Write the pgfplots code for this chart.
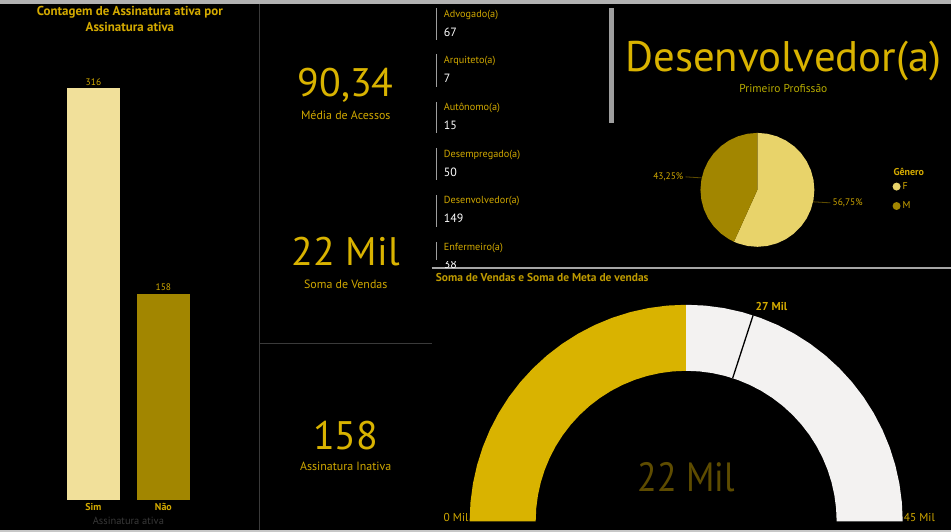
\documentclass[border=0pt]{standalone}
\usepackage{pgfplots}
\pgfplotsset{compat=1.18}
\usepackage{fontspec}
\setmainfont{PT Sans}
\definecolor{gold}{HTML}{D9B300}
\definecolor{goldlab}{HTML}{D0A800}
\definecolor{goldtitle}{HTML}{D4AA00}
\definecolor{goldtitleB}{HTML}{BE9A00}
\definecolor{olive}{HTML}{B8AC00}
\definecolor{barSim}{HTML}{F1E09A}
\definecolor{barNao}{HTML}{A28600}
\definecolor{pieF}{HTML}{E8D36A}
\definecolor{pieM}{HTML}{A28600}
\definecolor{gaugeW}{HTML}{F3F2F1}
\definecolor{darkgold}{HTML}{5E4C00}
\definecolor{divider}{HTML}{3A3A3A}
\newcommand\fs[1]{\fontsize{#1}{#1}\selectfont}
\begin{document}
\begin{tikzpicture}
% background
\fill[black] (0,0) rectangle (952bp,532bp);
\fill[black!30] (0,528bp) rectangle (952bp,532bp);
\fill[black!22] (0,0) rectangle (952bp,1.5bp);
% dividers
\draw[divider, line width=1bp] (259.5bp,1.5bp) -- (259.5bp,528bp);
\draw[divider, line width=1bp] (259.5bp,188bp) -- (432bp,188bp);
\draw[black!35, line width=1.5bp] (432bp,264bp) -- (952bp,264bp);
% slicer bars
\foreach \a/\b in {8/40,54/87,102/133,148/180,195/227,242/260}{
  \draw[black!38, line width=1.5bp] (437bp,532bp-\a bp) -- (437bp,532bp-\b bp);
}
\fill[black!38] (609bp,409bp) rectangle (614bp,524bp);
% slicer texts
\foreach \y/\t in {15/Advogado(a),61/Arquiteto(a),108/Autônomo(a),155/Desempregado(a),201/Desenvolvedor(a),248/Enfermeiro(a)}{
  \node[anchor=west, text=goldlab, inner sep=0pt, font=\fs{10.3}] at (444bp,532bp-\y bp) {\t};
}
\foreach \y/\t in {32/67,78/7,125/15,172/50,218/149}{
  \node[anchor=west, text=white, inner sep=0pt, font=\fs{12}] at (444bp,532bp-\y bp) {\t};
}
\begin{scope}
\clip (440bp,270bp) rectangle (500bp,262bp);
\node[anchor=west, text=white, inner sep=0pt, font=\fs{12}] at (444bp,532bp-265bp) {38};
\end{scope}
% left title
\node[align=center, text=goldtitle, font=\bfseries\fs{13}, inner sep=0pt] at (130bp,520bp) {Contagem de Assinatura ativa por};
\node[align=center, text=goldtitle, font=\bfseries\fs{13}, inner sep=0pt] at (130bp,505bp) {Assinatura ativa};
% KPI cards
\node[anchor=base, text=gold, inner sep=0pt, font=\fs{40}] at (346bp,435bp) {90,34};
\node[text=goldlab, inner sep=0pt, font=\fs{12}] at (346bp,417bp) {Média de Acessos};
\node[anchor=base, text=gold, inner sep=0pt, font=\fs{40}] at (346bp,266bp) {22 Mil};
\node[text=goldlab, inner sep=0pt, font=\fs{12}] at (346bp,247bp) {Soma de Vendas};
\node[anchor=base, text=gold, inner sep=0pt, font=\fs{40}] at (346bp,82bp) {158};
\node[text=goldlab, inner sep=0pt, font=\fs{12}] at (346bp,65bp) {Assinatura Inativa};
% card Desenvolvedor
\node[anchor=base, text=gold, inner sep=0pt, font=\fs{43}] at (784bp,460bp) {Desenvolvedor(a)};
\node[anchor=base, text=olive, inner sep=0pt, font=\fs{11.5}] at (784bp,439bp) {Primeiro Profissão};
% gauge title
\node[anchor=west, text=goldtitleB, inner sep=0pt, font=\bfseries\fs{11.5}] at (436bp,254bp) {Soma de Vendas e Soma de Meta de vendas};
\node[anchor=west, text=goldtitle, inner sep=0pt, font=\bfseries\fs{10}] at (894bp,360bp) {Gênero};

% bar chart
\begin{axis}[at={(58.5bp,32bp)}, anchor=south west, scale only axis,
  width=140bp, height=412bp, xmin=-0.5, xmax=1.5, ymin=0, ymax=316,
  ybar, bar width=0.757, axis line style={draw=none}, ytick=\empty,
  xtick={0,1}, xticklabels={Sim,Não}, major tick length=0pt,
  xticklabel style={font=\bfseries\fs{10}, text=goldtitle, inner sep=0pt, yshift=-4bp},
  xlabel={Assinatura ativa}, xlabel style={font=\fs{10.5}, text=black!78, inner sep=0pt, yshift=-6bp},
  nodes near coords, /pgf/number format/assume math mode=true,
  every node near coord/.append style={font=\fs{9.5}, text=goldlab, inner sep=2.5bp},
  clip=false]
\addplot[fill=barSim, draw=none, bar shift=0pt] coordinates {(0,316)};
\addplot[fill=barNao, draw=none, bar shift=0pt] coordinates {(1,158)};
\end{axis}

% pie chart
\begin{axis}[at={(701bp,285bp)}, anchor=south west, scale only axis,
  width=114bp, height=114bp, xmin=-1, xmax=1, ymin=-1, ymax=1,
  hide axis, clip=false,
  legend style={at={(1.685,0.585)}, anchor=north west, draw=none, fill=none,
    text=goldlab, font=\fs{10}, row sep=7bp, inner sep=0pt, cells={anchor=west}}]
\addplot[fill=pieF, draw=none, data cs=polar,
  legend image code/.code={\fill[pieF] (2bp,0bp) circle (4bp);}] coordinates {
 (0,0) (90,1) (80,1) (70,1) (60,1) (50,1) (40,1) (30,1) (20,1) (10,1) (0,1)
 (-10,1) (-20,1) (-30,1) (-40,1) (-50,1) (-60,1) (-70,1) (-80,1) (-90,1)
 (-100,1) (-110,1) (-114.3,1)} -- cycle;
\addlegendentry{F}
\addplot[fill=pieM, draw=none, data cs=polar,
  legend image code/.code={\fill[pieM] (2bp,0bp) circle (4bp);}] coordinates {
 (0,0) (90,1) (100,1) (110,1) (120,1) (130,1) (140,1) (150,1) (160,1) (170,1)
 (180,1) (190,1) (200,1) (210,1) (220,1) (230,1) (240,1) (245.7,1)} -- cycle;
\addlegendentry{M}
\addplot[darkgold, line width=0.8bp, forget plot] coordinates {(-0.978,0.21) (-1.26,0.228)};
\addplot[darkgold, line width=0.8bp, forget plot] coordinates {(0.978,-0.21) (1.28,-0.228)};
\node[anchor=east, text=goldlab, inner sep=1bp, font=\fs{9.5}] at (axis cs:-1.28,0.228) {43,25\%};
\node[anchor=west, text=goldlab, inner sep=1bp, font=\fs{9.5}] at (axis cs:1.30,-0.228) {56,75\%};
\end{axis}

% gauge
\begin{axis}[at={(470bp,10.3bp)}, anchor=south west, scale only axis,
  width=433.4bp, height=216.7bp, xmin=-1, xmax=1, ymin=0, ymax=1,
  hide axis, clip=false]
\addplot[fill=gold, draw=none, data cs=polar] coordinates {
 (180,1) (175,1) (170,1) (165,1) (160,1) (155,1) (150,1) (145,1) (140,1) (135,1)
 (130,1) (125,1) (120,1) (115,1) (110,1) (105,1) (100,1) (95,1) (90,1)
 (90,0.695) (95,0.695) (100,0.695) (105,0.695) (110,0.695) (115,0.695) (120,0.695)
 (125,0.695) (130,0.695) (135,0.695) (140,0.695) (145,0.695) (150,0.695) (155,0.695)
 (160,0.695) (165,0.695) (170,0.695) (175,0.695) (180,0.695)} -- cycle;
\addplot[fill=gaugeW, draw=none, data cs=polar] coordinates {
 (90,1) (85,1) (80,1) (75,1) (70,1) (65,1) (60,1) (55,1) (50,1) (45,1)
 (40,1) (35,1) (30,1) (25,1) (20,1) (15,1) (10,1) (5,1) (0,1)
 (0,0.695) (5,0.695) (10,0.695) (15,0.695) (20,0.695) (25,0.695) (30,0.695)
 (35,0.695) (40,0.695) (45,0.695) (50,0.695) (55,0.695) (60,0.695) (65,0.695)
 (70,0.695) (75,0.695) (80,0.695) (85,0.695) (90,0.695)} -- cycle;
\addplot[black, line width=1.3bp, data cs=polar] coordinates {(72,0.695) (72,1.0)};
\node[text=goldtitle, inner sep=0pt, font=\bfseries\fs{11.5}] at (axis cs:0.394,0.992) {27 Mil};
\node[anchor=base east, text=goldlab, inner sep=1bp, font=\fs{11.5}] at (axis cs:-1.0,0.0) {0 Mil};
\node[anchor=base west, text=goldlab, inner sep=1bp, font=\fs{11.5}] at (axis cs:1.0,0.0) {45 Mil};
\node[anchor=base, text=darkgold, inner sep=0pt, font=\fs{41}] at (axis cs:0,0.137) {\scalebox{0.88}[1]{22 Mil}};
\end{axis}
\end{tikzpicture}
\end{document}
